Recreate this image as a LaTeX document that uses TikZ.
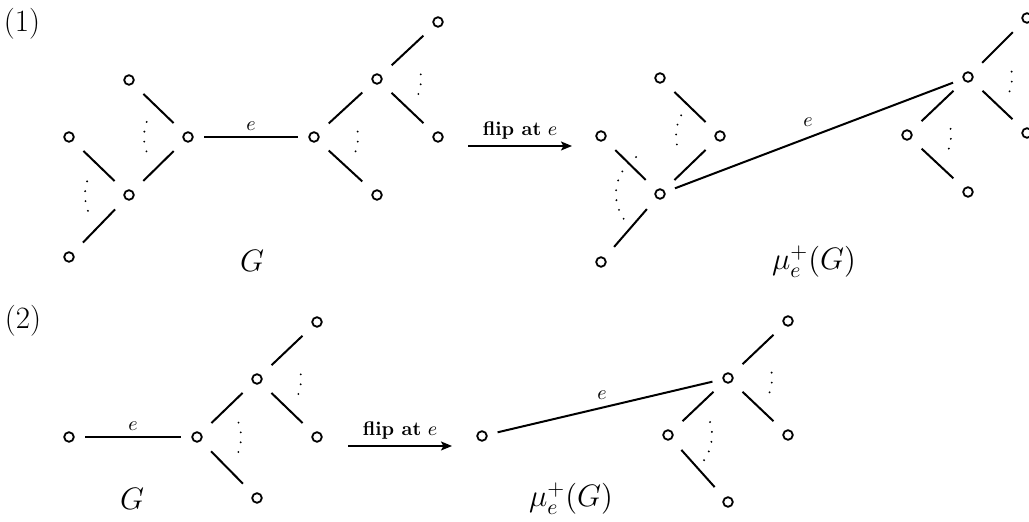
\RequirePackage{fix-cm}
\documentclass[tikz,border=0pt]{standalone}
\usetikzlibrary{arrows.meta}
\tikzset{
  vtx/.style={circle, draw, line width=0.9pt, minimum size=4.8pt, inner sep=0pt},
  arm/.style={line width=1pt, shorten <=10pt, shorten >=10pt},
  edgee/.style={line width=1pt, shorten <=8pt, shorten >=8pt},
  angmark/.style={line width=1.05pt, line cap=round, dash pattern=on 0pt off 5pt},
  flip/.style={line width=0.8pt, -{Stealth[length=5.5pt,width=4.5pt,inset=1.2pt]}},
  elabel/.style={font=\fontsize{10}{11}\selectfont, anchor=base, inner sep=0pt},
  fliplabel/.style={font=\fontsize{9.8}{11}\selectfont, anchor=base, inner sep=0pt, yshift=5.3pt},
  biglabel/.style={font=\fontsize{15.5}{18}\selectfont, anchor=base, inner sep=0pt},
}
% dotted angle mark around a vertex, between two angles (degrees)
\newcommand\angarc[3]{\draw[angmark] (#1.center) ++(#2:22pt) arc[start angle=#2, end angle=#3, radius=22pt];}
\begin{document}
\begin{tikzpicture}[x=0.5pt, y=-0.5pt]
\useasboundingbox (0,0) rectangle (1029,522);

% ---------------- (1) ----------------
\node[biglabel, anchor=center] (lab1) at (22,23.5) {(1)};

% G
\node[vtx] (A1) at (129,80) {};
\node[vtx] (A2) at (69,137) {};
\node[vtx] (A3) at (129,195) {};
\node[vtx] (A4) at (69,257) {};
\node[vtx] (A5) at (188,137) {};
\node[vtx] (A6) at (314,137) {};
\node[vtx] (A7) at (377,79) {};
\node[vtx] (A8) at (438,22) {};
\node[vtx] (A9) at (438,137) {};
\node[vtx] (A10) at (377,195) {};
\draw[arm] (A1.center) -- (A5.center);
\draw[arm] (A3.center) -- (A5.center);
\draw[arm] (A2.center) -- (A3.center);
\draw[arm] (A4.center) -- (A3.center);
\draw[edgee] (A5.center) -- node[elabel, midway, yshift=3pt] {$e$} (A6.center);
\draw[arm] (A6.center) -- (A7.center);
\draw[arm] (A6.center) -- (A10.center);
\draw[arm] (A7.center) -- (A8.center);
\draw[arm] (A7.center) -- (A9.center);
\angarc{A5}{160}{200}
\angarc{A3}{162}{202}
\angarc{A6}{-19}{17}
\angarc{A7}{-20}{16}
\node[biglabel] (G1) at (252,272) {$G$};

% flip arrow
\coordinate (f1a) at (468,146);
\coordinate (f1b) at (572,146);
\draw[flip] (f1a) -- node[fliplabel, midway] {\textbf{flip at} $e$} (f1b);

% mu_e^+(G)
\node[vtx] (B1) at (660,78) {};
\node[vtx] (B2) at (601,136) {};
\node[vtx] (B3) at (720,136) {};
\node[vtx] (B4) at (660,194) {};
\node[vtx] (B5) at (601,262) {};
\node[vtx] (B6) at (968,77) {};
\node[vtx] (B7) at (1027,18) {};
\node[vtx] (B8) at (1027,133) {};
\node[vtx] (B9) at (907,135) {};
\node[vtx] (B10) at (968,192) {};
\draw[arm] (B1.center) -- (B3.center);
\draw[arm] (B3.center) -- (B4.center);
\draw[arm] (B2.center) -- (B4.center);
\draw[arm] (B5.center) -- (B4.center);
\draw[edgee] (B4.center) -- node[elabel, midway, xshift=-3pt, yshift=4.25pt] {$e$} (B6.center);
\draw[arm] (B6.center) -- (B7.center);
\draw[arm] (B6.center) -- (B8.center);
\draw[arm] (B6.center) -- (B9.center);
\draw[arm] (B9.center) -- (B10.center);
\angarc{B3}{152}{200}
\angarc{B4}{123}{218}
\angarc{B6}{-19}{19}
\angarc{B9}{-18}{18}
\node[biglabel] (M1) at (814,270) {$\mu_e^+(G)$};

% ---------------- (2) ----------------
\node[biglabel, anchor=center] (lab2) at (23,320.5) {(2)};

% G
\node[vtx] (C1) at (69,437) {};
\node[vtx] (C2) at (197,437) {};
\node[vtx] (C3) at (257,379) {};
\node[vtx] (C4) at (317,322) {};
\node[vtx] (C5) at (317,437) {};
\node[vtx] (C6) at (257,498) {};
\draw[edgee] (C1.center) -- node[elabel, midway, yshift=3pt] {$e$} (C2.center);
\draw[arm] (C2.center) -- (C3.center);
\draw[arm] (C2.center) -- (C6.center);
\draw[arm] (C3.center) -- (C4.center);
\draw[arm] (C3.center) -- (C5.center);
\angarc{C2}{-20}{20}
\angarc{C3}{-20}{18}
\node[biglabel] (G2) at (132,510) {$G$};

% flip arrow
\coordinate (f2a) at (348,446);
\coordinate (f2b) at (452,446);
\draw[flip] (f2a) -- node[fliplabel, midway] {\textbf{flip at} $e$} (f2b);

% mu_e^+(G)
\node[vtx] (D1) at (482,436) {};
\node[vtx] (D2) at (728,378) {};
\node[vtx] (D3) at (788,321) {};
\node[vtx] (D4) at (788,435) {};
\node[vtx] (D5) at (668,435) {};
\node[vtx] (D6) at (728,502) {};
\draw[edgee] (D1.center) -- node[elabel, midway, xshift=-1.5pt, yshift=3.5pt] {$e$} (D2.center);
\draw[arm] (D2.center) -- (D3.center);
\draw[arm] (D2.center) -- (D4.center);
\draw[arm] (D2.center) -- (D5.center);
\draw[arm] (D5.center) -- (D6.center);
\angarc{D2}{-19}{19}
\angarc{D5}{-35}{28}
\node[biglabel] (M2) at (571,507) {$\mu_e^+(G)$};
\end{tikzpicture}
\end{document}
